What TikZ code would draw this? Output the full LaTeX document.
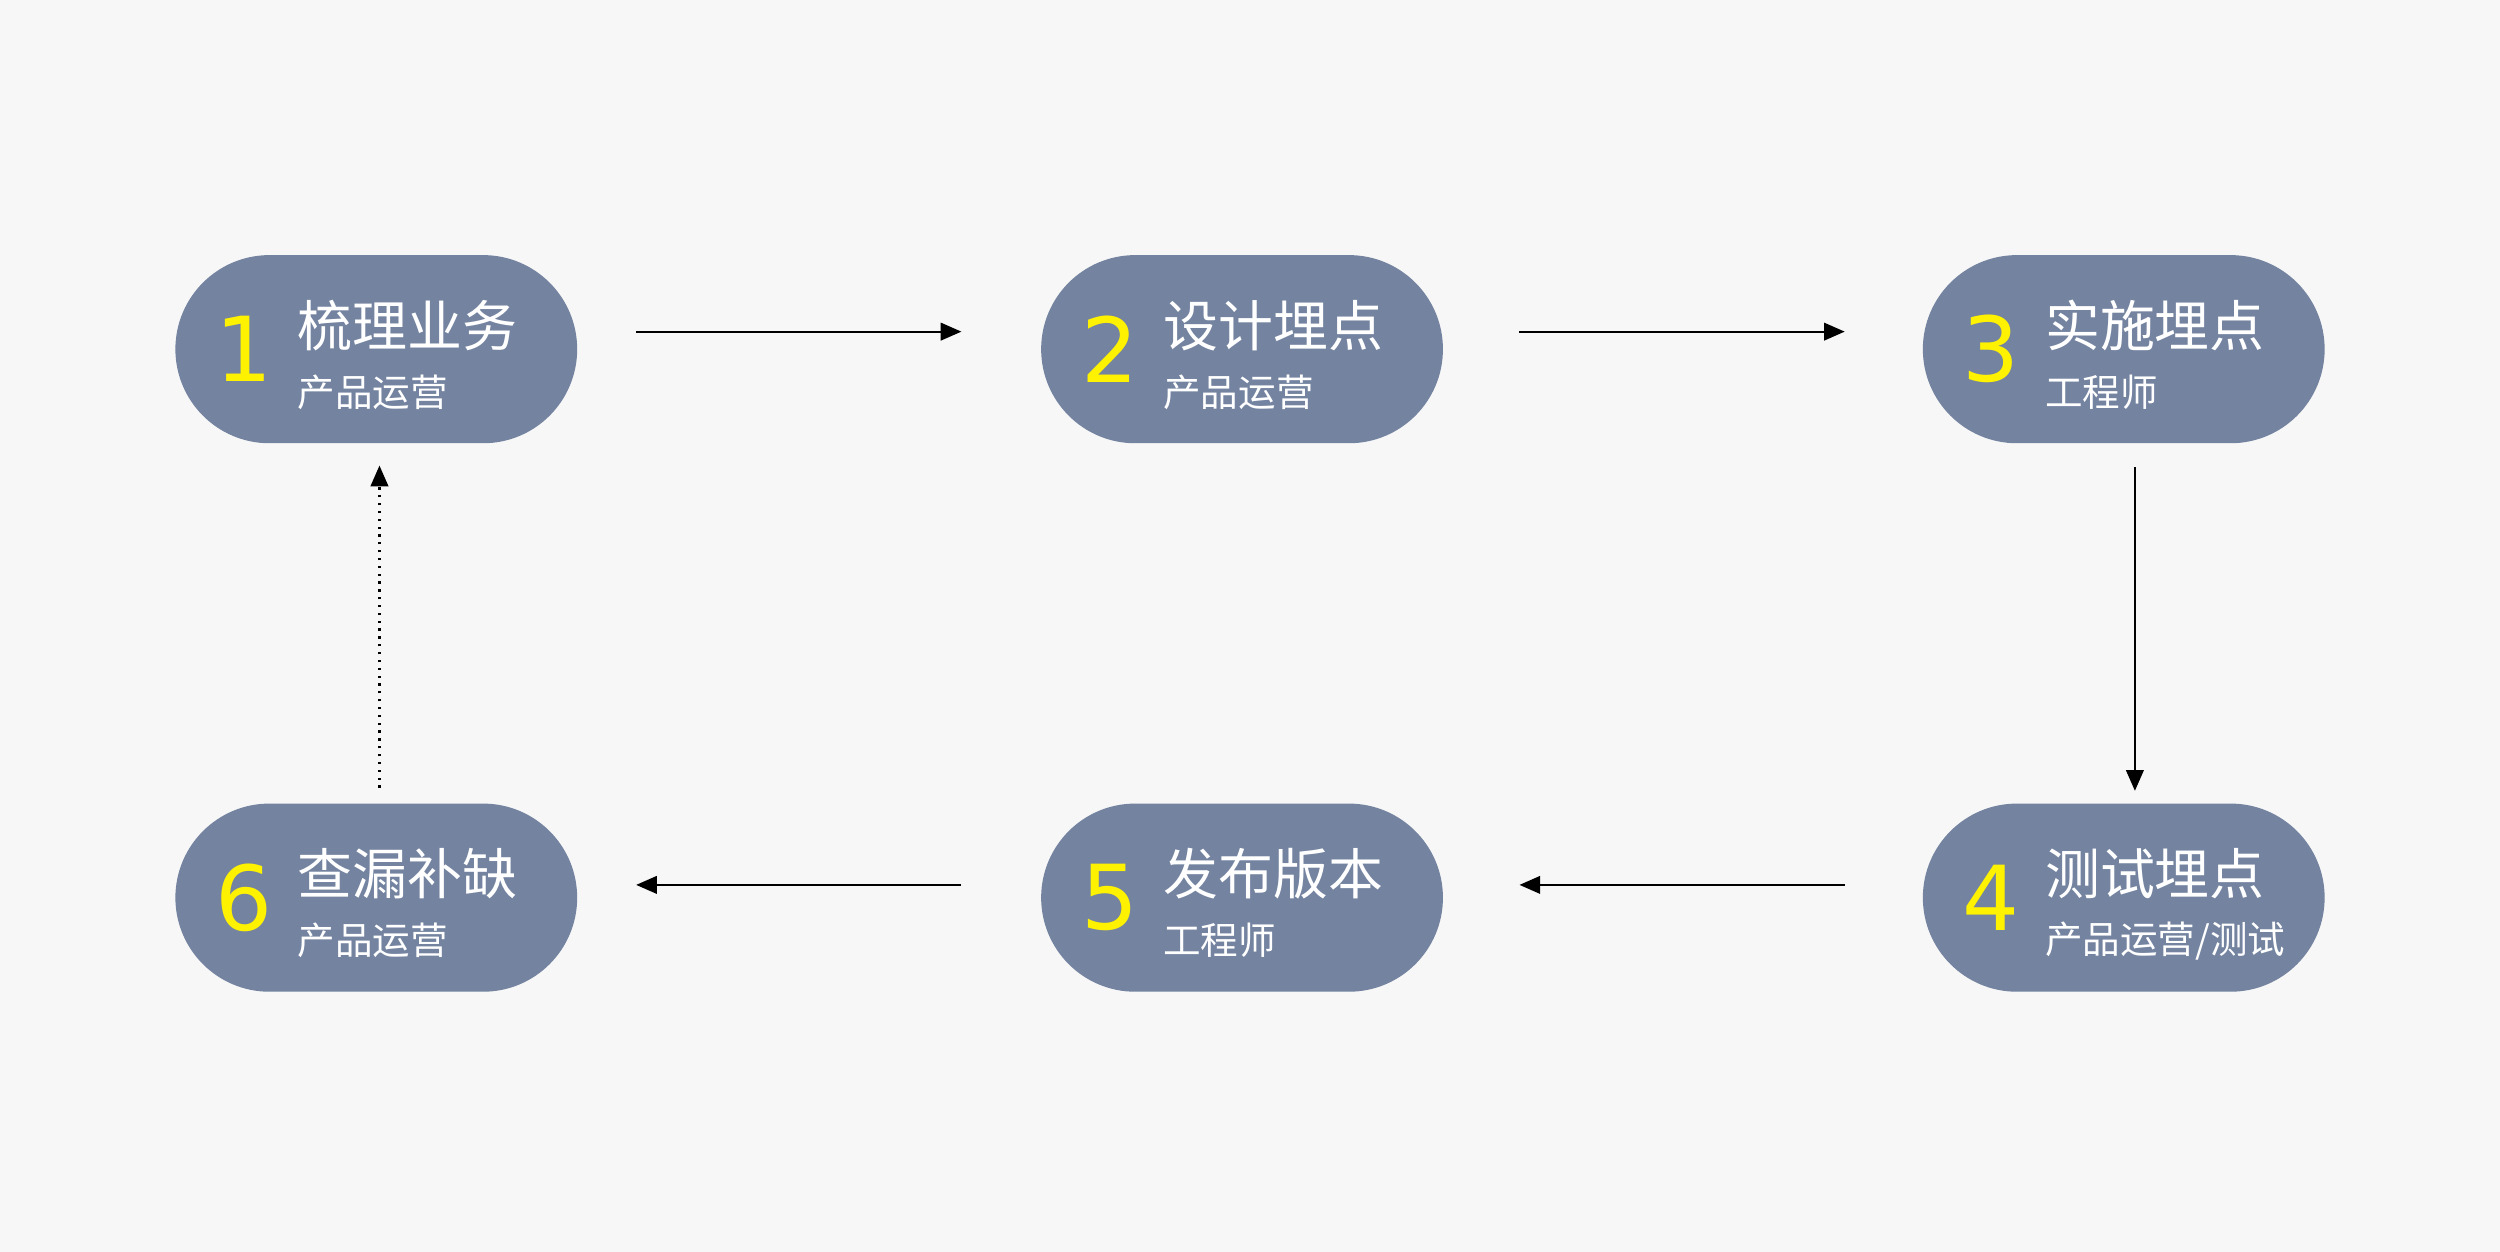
\documentclass[tikz,border=0pt]{standalone}
\usepackage{fontspec}
\setmainfont{Noto Sans CJK SC}
\newfontfamily\numfont{DejaVu Sans}
\usetikzlibrary{arrows.meta,positioning,shapes.misc,calc}
\definecolor{pillgray}{HTML}{7383A0}
\definecolor{bggray}{HTML}{F7F7F7}
\definecolor{numyellow}{HTML}{FFF200}
\tikzset{
  pill/.style={rounded rectangle, fill=pillgray, minimum width=2.52cm, minimum height=1.18cm, inner sep=0pt},
  num/.style={text=numyellow, inner sep=0pt, font=\numfont\fontsize{16}{16}\selectfont},
  title/.style={text=white, anchor=west, inner sep=0pt, font=\fontsize{9.8}{11}\selectfont},
  role/.style={text=white, anchor=west, inner sep=0pt, font=\fontsize{6.7}{8}\selectfont},
  flow/.style={-{Triangle[length=1.3mm,width=1.1mm]}, line width=0.4pt},
}
\newcommand{\step}[6]{%
  \node[pill] (#1) at (#2,#3) {};
  \node[num] (#1n) at ($(#1)+(-0.83,0)$) {#4};
  \node[title] (#1t) at ($(#1)+(-0.50,0.15)$) {#5};
  \node[role] (#1r) at ($(#1)+(-0.50,-0.27)$) {#6};
}
\begin{document}
\begin{tikzpicture}
  \fill[bggray] (0,0) rectangle (15.68,-7.85);
  \useasboundingbox (0,0) rectangle (15.68,-7.85);
  % Schritte
  \step{s1}{2.36}{-2.19}{1}{梳理业务}{产品运营}
  \step{s2}{7.79}{-2.19}{2}{设计埋点}{产品运营}
  \step{s3}{13.32}{-2.19}{3}{实施埋点}{工程师}
  \step{s4}{13.32}{-5.63}{4}{测试埋点}{产品运营/测试}
  \step{s5}{7.79}{-5.63}{5}{发布版本}{工程师}
  \step{s6}{2.36}{-5.63}{6}{查漏补缺}{产品运营}
  % Endpunkte
  \coordinate (a1) at (3.99,-2.08); \coordinate (b1) at (6.03,-2.08);
  \coordinate (a2) at (9.53,-2.08); \coordinate (b2) at (11.57,-2.08);
  \coordinate (a3) at (13.39,-2.93); \coordinate (b3) at (13.39,-4.96);
  \coordinate (a4) at (11.57,-5.55); \coordinate (b4) at (9.53,-5.55);
  \coordinate (a5) at (6.03,-5.55); \coordinate (b5) at (3.99,-5.55);
  \coordinate (a6) at (2.38,-4.94); \coordinate (b6) at (2.38,-2.92);
  % Pfeile
  \draw[flow] (a1) -- (b1);
  \draw[flow] (a2) -- (b2);
  \draw[flow] (a3) -- (b3);
  \draw[flow] (a4) -- (b4);
  \draw[flow] (a5) -- (b5);
  \draw[flow,densely dotted] (a6) -- (b6);
\end{tikzpicture}
\end{document}
